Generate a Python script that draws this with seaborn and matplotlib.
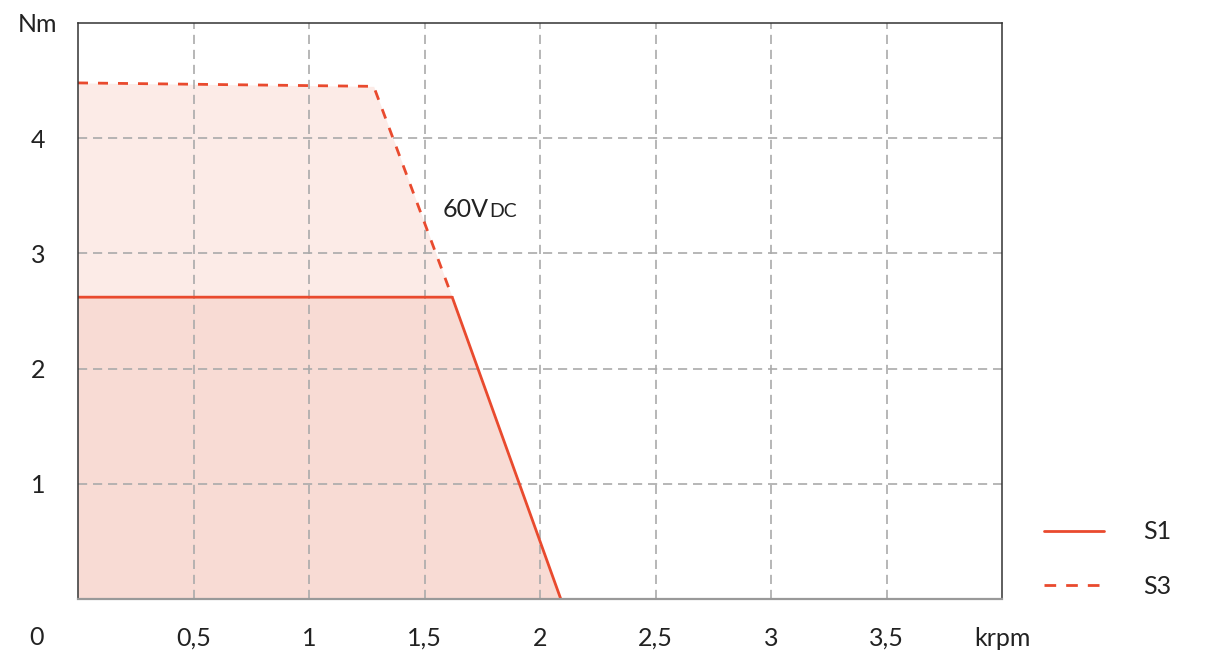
import numpy as np
import pandas as pd
import seaborn as sns
import matplotlib.pyplot as plt
from matplotlib.lines import Line2D

# Torque / speed curve values
speed_s1 = [0, 1.62, 2.09]
torque_s1 = [2.62, 2.62, 0]
speed_s3 = [0, 1.28, 1.62]
torque_s3 = [4.48, 4.45, 2.62]

x_ticks = [0.5, 1, 1.5, 2, 2.5, 3, 3.5, 4]
x_labels = ['0,5', '1', '1,5', '2', '2,5', '3', '3,5', 'krpm']
y_ticks = [1, 2, 3, 4, 5]
y_labels = ['1', '2', '3', '4', 'Nm']

red = '#e94a2e'
fill_s1 = '#f8dbd4'
fill_s3 = '#fcebe7'
txt = '#222222'
fs = 18

sns.set_style('white')
plt.rcParams['font.family'] = ['Lato', 'DejaVu Sans']

fig = plt.figure(figsize=(12.05, 6.69), dpi=100)
ax = fig.add_axes([78 / 1205, 70 / 669, 924 / 1205, 576 / 669])

# filled areas (S3 envelope continues along S1 below the knee)
env_x = speed_s3 + speed_s1[2:]
env_y = torque_s3 + torque_s1[2:]
ax.fill_between(env_x, env_y, 0, color=fill_s3, lw=0, zorder=1)
ax.fill_between(speed_s1, torque_s1, 0, color=fill_s1, lw=0, zorder=1.5)

df1 = pd.DataFrame({'krpm': speed_s1, 'Nm': torque_s1})
df3 = pd.DataFrame({'krpm': speed_s3, 'Nm': torque_s3})
sns.lineplot(data=df1, x='krpm', y='Nm', ax=ax, color=red, lw=2.0, zorder=4)
sns.lineplot(data=df3, x='krpm', y='Nm', ax=ax, color=red, lw=2.0,
             linestyle=(0, (3.6, 3.6)), zorder=4)

ax.set_xlim(0, 4)
ax.set_ylim(0, 5)
ax.set_xlabel('')
ax.set_ylabel('')

ax.set_xticks(x_ticks)
ax.set_xticklabels(x_labels)
ax.set_yticks(y_ticks)
ax.set_yticklabels(y_labels)
ax.tick_params(axis='x', length=0, pad=20, labelsize=fs, labelcolor=txt)
ax.tick_params(axis='y', length=0, pad=29, labelsize=fs, labelcolor=txt)
for lab in ax.get_yticklabels():
    lab.set_horizontalalignment('center')

# grid, but not on the outer frame
for xv in x_ticks[:-1]:
    ax.axvline(xv, color='#aaaaaa', lw=1.2, linestyle=(0, (5.5, 3.5)), zorder=2)
for yv in y_ticks[:-1]:
    ax.axhline(yv, color='#aaaaaa', lw=1.2, linestyle=(0, (5.5, 3.5)), zorder=2)

for side in ['left', 'top', 'right']:
    ax.spines[side].set_color('#333333')
    ax.spines[side].set_linewidth(1.1)
ax.spines['bottom'].set_color('#999999')
ax.spines['bottom'].set_linewidth(1.6)
for sp in ax.spines.values():
    sp.set_zorder(5)

# lone origin label
ax.annotate('0', xy=(0, 0), xycoords='data', xytext=(-30, -28),
            textcoords='offset points', ha='center', va='center',
            fontsize=fs, color=txt, annotation_clip=False)

# voltage label with small-caps subscript
t = ax.text(1.58, 3.385, '60V', fontsize=fs, color=txt, va='center', ha='left')
ax.annotate('DC', xy=(1.0, 0.04), xycoords=t, fontsize=14, color=txt,
            va='bottom', ha='left')

handles = [Line2D([], [], color=red, lw=2.0),
           Line2D([], [], color=red, lw=2.0, linestyle=(0, (4.2, 3.6)))]
fig.legend(handles, ['S1', 'S3'], loc='center left',
           bbox_to_anchor=(1021 / 1205, 1 - 559 / 669), frameon=False,
           fontsize=fs, handlelength=2.4, handletextpad=1.6,
           labelspacing=1.25, labelcolor=txt)

fig.savefig('out.png', dpi=100)
